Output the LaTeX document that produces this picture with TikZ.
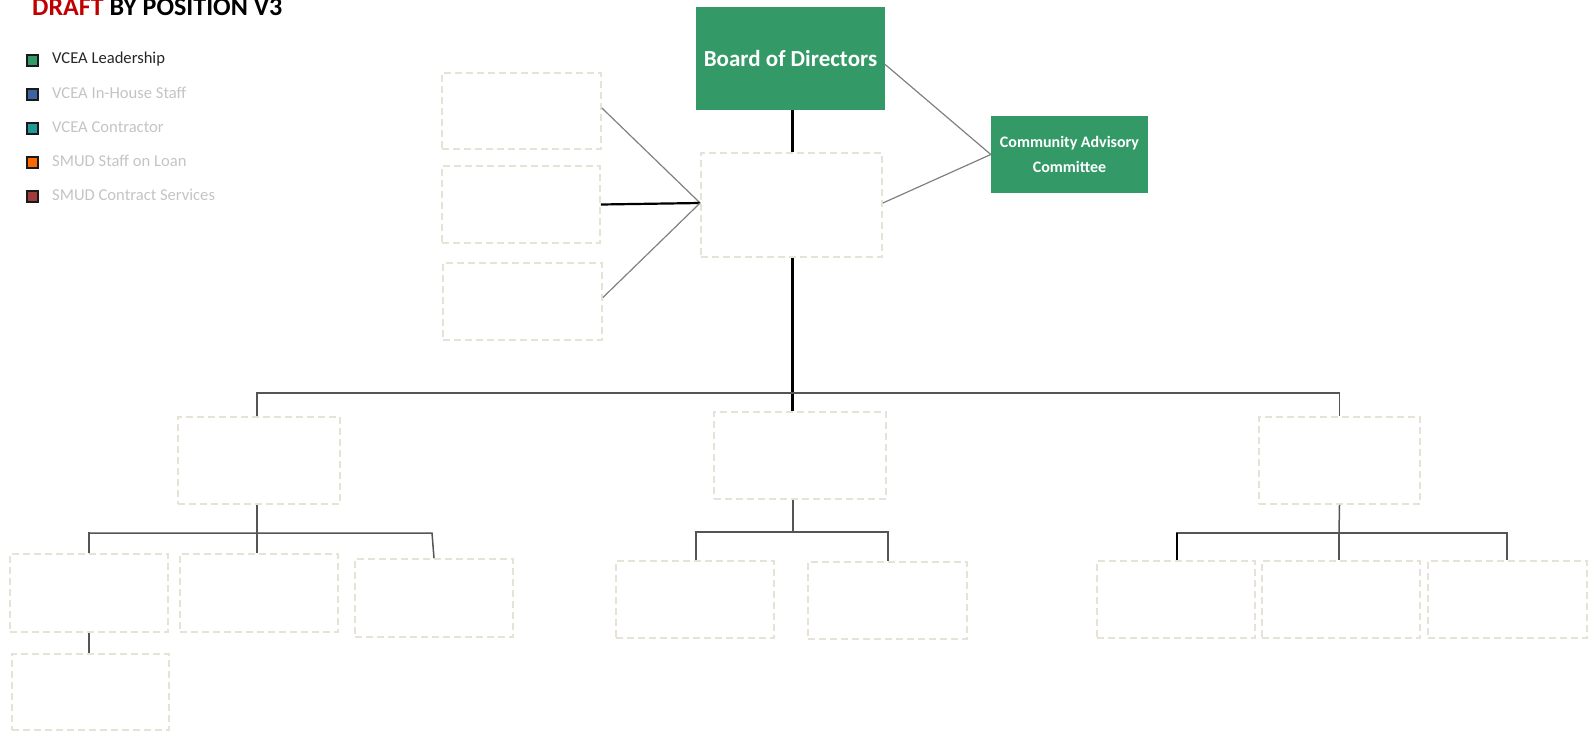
\documentclass[tikz,border=0pt]{standalone}
\usepackage{fontspec}
\setmainfont{Carlito}
\definecolor{vgreen}{HTML}{339966}
\definecolor{vblue}{HTML}{3C64A0}
\definecolor{vteal}{HTML}{1F9A9A}
\definecolor{vorange}{HTML}{FF6A00}
\definecolor{vbrown}{HTML}{A03C3C}
\definecolor{dashcol}{HTML}{E6E2D6}
\definecolor{legend gray}{HTML}{C4C4C4}
\definecolor{draftred}{HTML}{C00000}
\definecolor{linegray}{HTML}{555555}
\tikzset{
  dbox/.style={draw=dashcol, line width=1.8pt, dash pattern=on 7pt off 4pt, inner sep=0pt},
  gbox/.style={fill=vgreen, draw=none, inner sep=0pt, text=white, font=\bfseries},
  lsq/.style={draw=black!90, line width=2pt, minimum width=11pt, minimum height=11pt, inner sep=0pt},
  ltext/.style={anchor=west, inner sep=0pt, font=\fontsize{16.6}{19}\selectfont},
  thickline/.style={line width=3pt, black},
  midline/.style={line width=2.6pt, linegray},
  thinline/.style={line width=1.5pt, linegray},
  diag/.style={line width=1.2pt, gray}
}
\begin{document}
\begin{tikzpicture}[x=1pt,y=-1pt]
\useasboundingbox (0,0) rectangle (1589,731);
% title
\node[anchor=base west, inner sep=0pt, font=\fontsize{26}{30}\selectfont\bfseries] (title) at (32,15) {\textcolor{draftred}{DRAFT} BY POSITION V3};
% legend
\node[lsq, fill=vgreen] (lg1) at (32,60) {};
\node[lsq, fill=vblue] (lg2) at (32,94) {};
\node[lsq, fill=vteal] (lg3) at (32,128) {};
\node[lsq, fill=vorange] (lg4) at (32,162) {};
\node[lsq, fill=vbrown] (lg5) at (32,196) {};
\node[ltext, text=black!85] (lt1) at (52,59) {VCEA Leadership};
\node[ltext, text=legend gray] (lt2) at (52,93) {VCEA In-House Staff};
\node[ltext, text=legend gray] (lt3) at (52,127) {VCEA Contractor};
\node[ltext, text=legend gray] (lt4) at (52,161) {SMUD Staff on Loan};
\node[ltext, text=legend gray] (lt5) at (52,195) {SMUD Contract Services};
% green boxes
\node[gbox, minimum width=189pt, minimum height=103pt, font=\fontsize{23}{26}\selectfont\bfseries] (bod) at (790.5,58.5) {Board of Directors};
\node[gbox, minimum width=157pt, minimum height=77pt, align=center, font=\fontsize{16}{25}\selectfont\bfseries] (cac) at (1069.5,154.5) {Community Advisory\\Committee};
% dashed boxes
\node[dbox, minimum width=181pt, minimum height=104pt] (ed) at (791.5,205) {};
\node[dbox, minimum width=159pt, minimum height=76pt] (l1) at (521.5,111) {};
\node[dbox, minimum width=158pt, minimum height=77pt] (l2) at (521,204.5) {};
\node[dbox, minimum width=159pt, minimum height=77pt] (l3) at (522.5,301.5) {};
\node[dbox, minimum width=162pt, minimum height=87pt] (m1) at (259,460.5) {};
\node[dbox, minimum width=172pt, minimum height=87pt] (m2) at (800,455.5) {};
\node[dbox, minimum width=161pt, minimum height=87pt] (m3) at (1339.5,460.5) {};
\node[dbox, minimum width=158pt, minimum height=78pt] (a1) at (89,593) {};
\node[dbox, minimum width=158pt, minimum height=78pt] (a2) at (259,593) {};
\node[dbox, minimum width=158pt, minimum height=78pt] (a3) at (434,598) {};
\node[dbox, minimum width=157pt, minimum height=76pt] (a4) at (90.5,692) {};
\node[dbox, minimum width=158pt, minimum height=77pt] (b1) at (695,599.5) {};
\node[dbox, minimum width=159pt, minimum height=77pt] (b2) at (887.5,600.5) {};
\node[dbox, minimum width=158pt, minimum height=77pt] (c1) at (1176,599.5) {};
\node[dbox, minimum width=158pt, minimum height=77pt] (c2) at (1341,599.5) {};
\node[dbox, minimum width=159pt, minimum height=77pt] (c3) at (1507.5,599.5) {};
% bar coordinates
\coordinate (bar0) at (792,393);
\coordinate (barA) at (257,533);
\coordinate (barB) at (793,532);
\coordinate (barC) at (1339,533);
% top connectors
\draw[thickline] ([xshift=1.5pt]bod.south) -- ([xshift=1.5pt]bod.south |- ed.north);
\draw[thickline] (ed.south -| bar0) -- (m2.north -| bar0);
\draw[diag] ([yshift=-6pt]bod.east) -- (cac.west);
\draw[diag] ([yshift=2pt]ed.east) -- (cac.west);
\draw[diag] ([yshift=3pt]l1.east) -- ([yshift=2pt]ed.west);
\draw[line width=2.2pt, black] (l2.east) -- ([yshift=2pt]ed.west);
\draw[diag] ([yshift=4pt]l3.east) -- ([yshift=2pt]ed.west);
% main bar
\draw[thinline] (m1.north -| barA) -- (barA |- bar0) -- (m3.north |- bar0) -- (m3.north);
\draw[midline] (m1.north -| barA) -- ++(0,-22);
% left group
\draw[midline] (m1.south -| barA) -- (barA);
\draw[thinline] (a1.north) -- (a1.north |- barA) -- ([xshift=-2pt]a3.north |- barA) -- (a3.north);
\draw[midline] (a1.north) -- ++(0,-21);
\draw[midline] (a2.north -| barA) -- (barA);
\draw[midline] (a1.south) -- (a4.north -| a1.south);
% middle group
\draw[thinline] (m2.south -| barB) -- (barB);
\draw[thinline] (b1.north -| 696,0) -- (696,532) -- (888,532) -- (b2.north -| 888,0);
% right group
\draw[thinline] (m3.south) -- (barC);
\draw[thinline] (c1.north -| 1177,0) -- (1177,533) -- (1507,533) -- (c3.north -| 1507,0);
\draw[thickline, line width=2.4pt] (c1.north -| 1177,0) -- (1177,533);
\draw[thinline] (barC) -- (c2.north -| barC);
\end{tikzpicture}
\end{document}
